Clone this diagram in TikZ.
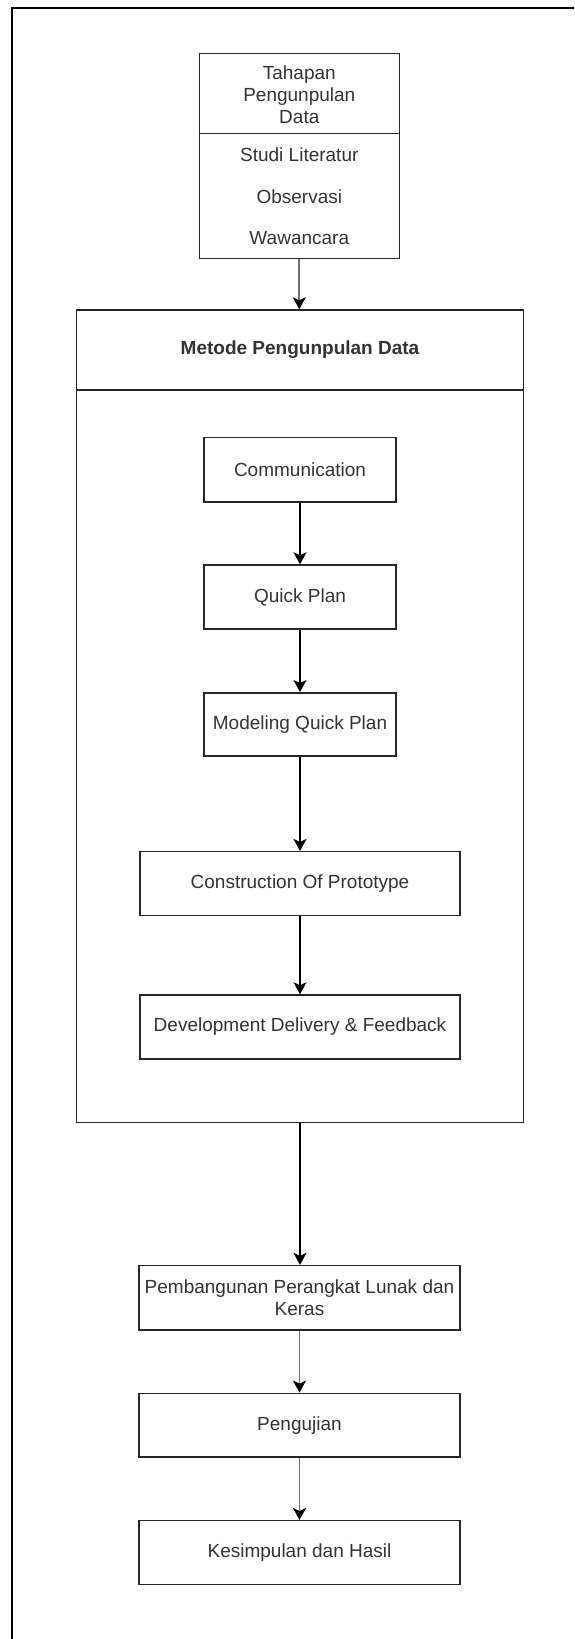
\documentclass[tikz,border=0pt]{standalone}
\usepackage{fontspec}
\setmainfont{Liberation Sans}
\usetikzlibrary{arrows.meta}
\definecolor{txt}{HTML}{333333}
\definecolor{lgray}{HTML}{6E6E6E}
\tikzset{
  boxn/.style={draw=black!85, line width=1.5pt, inner sep=0pt, align=center,
    text=txt, font=\fontsize{19}{22}\selectfont},
  plain/.style={inner sep=0pt, align=center, text=txt, font=\fontsize{19}{22}\selectfont},
  arr/.style={line width=1.4pt, draw=black, -{Stealth[length=12pt,width=13pt,inset=3pt]}},
  garr/.style={line width=1.9pt, draw=lgray, -{Stealth[length=12pt,width=13pt,inset=3pt,color=black,fill=black]}},
}
\begin{document}
\begin{tikzpicture}[x=1pt,y=-1pt]
\useasboundingbox (0,0) rectangle (574,1639);
\fill[white] (0,0) rectangle (574,1639);
% outer frame (cropped at right and bottom)
\draw[line width=2pt, black] (11.5,1639) -- (11.5,7.5) -- (574,7.5);

% top box
\node[boxn, minimum width=200pt, minimum height=205pt] (tahap) at (299.3,155.8) {};
\draw[line width=1.5pt, black!85] (tahap.west |- 0,133.3) -- (tahap.east |- 0,133.3);
\node[plain] (tahapt) at (299.3,95) {Tahapan\\Pengunpulan\\Data};
\node[plain] (studi) at (299.3,155) {Studi Literatur};
\node[plain] (obs) at (299.3,196.7) {Observasi};
\node[plain] (waw) at (299.3,238.3) {Wawancara};

% big box
\node[boxn, minimum width=446.6pt, minimum height=812.7pt] (big) at (300,716.35) {};
\draw[line width=1.5pt, black!85] (big.west |- 0,390) -- (big.east |- 0,390);
\node[plain, font=\fontsize{19}{22}\selectfont\bfseries] (bigt) at (300,350) {Metode Pengunpulan Data};

% inner steps
\node[boxn, minimum width=192pt, minimum height=64.5pt] (comm) at (300,469.5) {Communication};
\node[boxn, minimum width=192pt, minimum height=64pt] (quick) at (300,597) {Quick Plan};
\node[boxn, minimum width=192pt, minimum height=63.3pt] (model) at (300,724.4) {Modeling Quick Plan};
\node[boxn, minimum width=320pt, minimum height=64pt] (constr) at (300,883.7) {Construction Of Prototype};
\node[boxn, minimum width=320pt, minimum height=64pt] (devel) at (300,1027) {Development Delivery \& Feedback};

% lower steps
\node[boxn, minimum width=321pt, minimum height=64.3pt] (pemb) at (299.5,1297.8) {Pembangunan Perangkat Lunak dan\\Keras};
\node[boxn, minimum width=321pt, minimum height=63.7pt] (uji) at (299.5,1425.2) {Pengujian};
\node[boxn, minimum width=321pt, minimum height=63.6pt] (kes) at (299.5,1552.5) {Kesimpulan dan Hasil};

% connectors
\draw[garr] (tahap.south) -- (tahap.south |- big.north);
\draw[arr] (comm) -- (quick);
\draw[arr] (quick) -- (model);
\draw[arr] (model) -- (constr);
\draw[arr] (constr) -- (devel);
\draw[arr, line width=1.6pt] (big.south) -- (big.south |- pemb.north);
\draw[garr] (pemb.south) -- (pemb.south |- uji.north);
\draw[garr] (uji.south) -- (uji.south |- kes.north);
\end{tikzpicture}
\end{document}
